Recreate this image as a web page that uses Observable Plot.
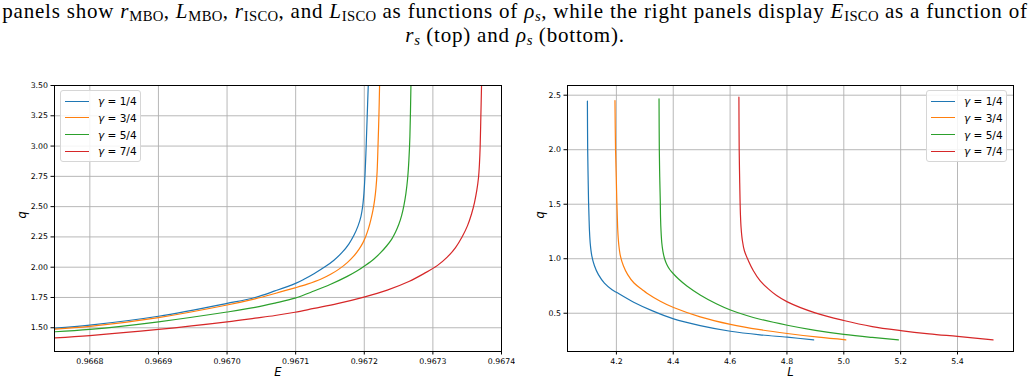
<!DOCTYPE html>
<html>
<head>
<meta charset="utf-8">
<script src="https://cdn.jsdelivr.net/npm/d3@7"></script>
<script src="https://cdn.jsdelivr.net/npm/@observablehq/plot@0.6"></script>
<style>
  html, body { margin: 0; padding: 0; background: #fff; }
  #root { position: relative; width: 1030px; height: 384px; overflow: hidden; }
  .cap { position: absolute; left: 0; width: 1030px; text-align: center;
    font-family: "Liberation Serif", serif; font-size: 21px; letter-spacing: 0.8px; color: #000; white-space: nowrap; }
  .cap sub { font-size: 70%; vertical-align: -0.22em; line-height: 0; letter-spacing: 0.3px; }
  .chart { position: absolute; top: 60px; }
  .chart svg, .chart svg text { font-family: "DejaVu Sans", sans-serif !important; }
  .legend { position: absolute; background: rgba(255,255,255,0.85); border: 1px solid #d6d6d6; border-radius: 3px; box-sizing: border-box; }
  .lg-line { position: absolute; height: 0; border-top: 1.5px solid; }
  .lg-text { position: absolute; font-family: "DejaVu Sans", sans-serif; font-size: 10.5px; line-height: 12px; color: #000; white-space: nowrap; }
</style>
</head>
<body>
<div id="root">
  <div class="cap" style="top:0px; line-height:22px; height:22px">panels show <i>r</i><sub>MBO</sub>, <i>L</i><sub>MBO</sub>, <i>r</i><sub>ISCO</sub>, and <i>L</i><sub>ISCO</sub> as functions of <i>ρ<sub>s</sub></i>, while the right panels display <i>E</i><sub>ISCO</sub> as a function of</div>
  <div class="cap" style="top:25px; line-height:20px; height:20px"><i>r<sub>s</sub></i> (top) and <i>ρ<sub>s</sub></i> (bottom).</div>
  <div id="left" class="chart" style="left:0px"></div>
  <div id="right" class="chart" style="left:515px"></div>
</div>
<script>
// ---- series labels and colours ----
const gammas = ["1/4", "3/4", "5/4", "7/4"];
const colors = ["#1f77b4", "#ff7f0e", "#2ca02c", "#d62728"];

// ---- left panel: q vs E ----
const E_g14 = [0.9667495, 0.9668, 0.9669, 0.9670, 0.9670408, 0.9670699, 0.9670990, 0.9671121, 0.9671267, 0.9671427, 0.9671558, 0.9671680, 0.9671777, 0.9671849, 0.9671908, 0.9671951, 0.9671976, 0.9671995, 0.9672012, 0.9672027, 0.9672041, 0.9672058];
const q_E_g14 = [1.497, 1.522, 1.595, 1.701, 1.750, 1.804, 1.864, 1.900, 1.946, 2.003, 2.058, 2.124, 2.193, 2.263, 2.339, 2.418, 2.501, 2.611, 2.775, 2.991, 3.222, 3.500];
const E_g34 = [0.9667495, 0.9668, 0.9669, 0.9670, 0.9670408, 0.9670699, 0.9670990, 0.9671170, 0.9671364, 0.9671510, 0.9671631, 0.9671752, 0.9671849, 0.9671922, 0.9671981, 0.9672024, 0.9672063, 0.9672097, 0.9672126, 0.9672150, 0.9672170, 0.9672187, 0.9672201, 0.9672214, 0.9672223];
const q_E_g34 = [1.489, 1.511, 1.584, 1.688, 1.739, 1.783, 1.829, 1.860, 1.900, 1.941, 1.984, 2.038, 2.093, 2.147, 2.203, 2.258, 2.322, 2.395, 2.469, 2.552, 2.651, 2.787, 3.018, 3.266, 3.500];
const E_g54 = [0.9667495, 0.9668, 0.9669, 0.9670, 0.9670408, 0.9670699, 0.9670990, 0.9671267, 0.9671510, 0.9671752, 0.9671898, 0.9672019, 0.9672141, 0.9672238, 0.9672325, 0.9672398, 0.9672456, 0.9672505, 0.9672544, 0.9672578, 0.9672607, 0.9672631, 0.9672650, 0.9672665, 0.9672680];
const q_E_g54 = [1.467, 1.486, 1.549, 1.630, 1.668, 1.704, 1.745, 1.803, 1.859, 1.924, 1.970, 2.016, 2.068, 2.120, 2.175, 2.230, 2.290, 2.356, 2.426, 2.511, 2.610, 2.728, 2.882, 3.080, 3.500];
const E_g74 = [0.9667495, 0.9668, 0.9669, 0.9670, 0.9670408, 0.9670699, 0.9670990, 0.9671267, 0.9671607, 0.9671995, 0.9672335, 0.9672650, 0.9672869, 0.9673063, 0.9673209, 0.9673330, 0.9673427, 0.9673505, 0.9673563, 0.9673607, 0.9673641, 0.9673665, 0.9673679, 0.9673689, 0.9673699, 0.9673709];
const q_E_g74 = [1.416, 1.435, 1.486, 1.549, 1.579, 1.601, 1.628, 1.660, 1.699, 1.753, 1.811, 1.882, 1.947, 2.013, 2.083, 2.162, 2.251, 2.343, 2.439, 2.536, 2.638, 2.741, 2.857, 2.995, 3.242, 3.500];

// ---- right panel: q vs L ----
const L_g14 = [4.098, 4.099, 4.1005, 4.102, 4.1037, 4.1053, 4.1082, 4.1135, 4.1228, 4.1368, 4.1579, 4.1848, 4.2000, 4.2608, 4.3251, 4.4012, 4.4947, 4.6012, 4.7053, 4.8012, 4.894];
const q_L_g14 = [2.445, 2.000, 1.750, 1.530, 1.378, 1.256, 1.134, 1.027, 0.936, 0.854, 0.777, 0.716, 0.692, 0.601, 0.524, 0.448, 0.387, 0.335, 0.302, 0.280, 0.256];
const L_g34 = [4.195, 4.197, 4.1995, 4.2015, 4.2033, 4.2049, 4.2082, 4.2140, 4.2246, 4.2398, 4.2620, 4.2912, 4.3076, 4.3544, 4.4012, 4.4947, 4.6012, 4.7053, 4.8012, 4.911, 5.007];
const q_L_g34 = [2.451, 2.000, 1.750, 1.530, 1.378, 1.256, 1.134, 1.027, 0.936, 0.854, 0.777, 0.716, 0.683, 0.610, 0.552, 0.467, 0.398, 0.349, 0.314, 0.280, 0.256];
const L_g54 = [4.350, 4.351, 4.3525, 4.3544, 4.3553, 4.3570, 4.3596, 4.3637, 4.3696, 4.3778, 4.3883, 4.4012, 4.4187, 4.4480, 4.4947, 4.5532, 4.6012, 4.6585, 4.7053, 4.8012, 4.900, 5.000, 5.100, 5.192];
const q_L_g54 = [2.467, 2.000, 1.750, 1.530, 1.378, 1.256, 1.149, 1.067, 1.000, 0.945, 0.899, 0.860, 0.814, 0.750, 0.668, 0.585, 0.530, 0.479, 0.445, 0.390, 0.343, 0.306, 0.278, 0.256];
const L_g74 = [4.631, 4.632, 4.6335, 4.6351, 4.6363, 4.6386, 4.6433, 4.6503, 4.6643, 4.6819, 4.7053, 4.7345, 4.7637, 4.8012, 4.8994, 5.000, 5.100, 5.200, 5.300, 5.400, 5.525];
const q_L_g74 = [2.482, 2.000, 1.750, 1.530, 1.409, 1.287, 1.165, 1.073, 0.982, 0.890, 0.799, 0.723, 0.662, 0.604, 0.503, 0.433, 0.378, 0.341, 0.311, 0.287, 0.256];

// ---- tick labels ----
const leftXTicks = [0.9668, 0.9669, 0.9670, 0.9671, 0.9672, 0.9673, 0.9674];
const leftYTicks = [1.50, 1.75, 2.00, 2.25, 2.50, 2.75, 3.00, 3.25, 3.50];
const rightXTicks = [4.2, 4.4, 4.6, 4.8, 5.0, 5.2, 5.4];
const rightYTicks = [0.5, 1.0, 1.5, 2.0, 2.5];

// ---- build tables ----
function table(xs, ys, g) { return xs.map((x, i) => ({x, y: ys[i], g})); }
const leftData = [
  ...table(E_g14, q_E_g14, gammas[0]), ...table(E_g34, q_E_g34, gammas[1]),
  ...table(E_g54, q_E_g54, gammas[2]), ...table(E_g74, q_E_g74, gammas[3])
];
const rightData = [
  ...table(L_g14, q_L_g14, gammas[0]), ...table(L_g34, q_L_g34, gammas[1]),
  ...table(L_g54, q_L_g54, gammas[2]), ...table(L_g74, q_L_g74, gammas[3])
];

const W = 515, H = 324;

function panel({data, xDomain, yDomain, xTicks, yTicks, xFmt, yFmt, xLabel, marginLeft, marginRight, yLabelOffset}) {
  return Plot.plot({
    width: W, height: H,
    marginTop: 25, marginBottom: 33, marginLeft, marginRight,
    style: {fontFamily: "'DejaVu Sans', sans-serif", fontSize: "7.8px", background: "transparent", color: "#000"},
    x: {domain: xDomain, label: null},
    y: {domain: yDomain, label: null},
    color: {domain: gammas, range: colors},
    marks: [
      Plot.gridX(xTicks, {stroke: "#b0b0b0", strokeOpacity: 1, strokeWidth: 0.9}),
      Plot.gridY(yTicks, {stroke: "#b0b0b0", strokeOpacity: 1, strokeWidth: 0.9}),
      Plot.line(data, {x: "x", y: "y", z: "g", stroke: "g", curve: "catmull-rom", strokeWidth: 1.2, clip: true}),
      Plot.frame({stroke: "#000", strokeWidth: 1}),
      Plot.axisX(xTicks, {tickSize: 3.5, tickPadding: 3, tickFormat: d3.format(xFmt), label: null, stroke: "#000"}),
      Plot.axisY(yTicks, {tickSize: 3.5, tickPadding: 3, tickFormat: d3.format(yFmt), label: null, stroke: "#000"}),
      Plot.text([xLabel], {frameAnchor: "bottom", dy: 24, text: d => d, fontSize: 11.5, fontStyle: "italic", fill: "#000"}),
      Plot.text(["q"], {frameAnchor: "left", dx: -yLabelOffset, rotate: -90, text: d => d, fontSize: 11.5, fontStyle: "italic", fill: "#000"})
    ]
  });
}

document.getElementById("left").append(panel({
  data: leftData, xDomain: [0.9667485, 0.9674], yDomain: [1.304, 3.50],
  xTicks: leftXTicks, yTicks: leftYTicks, xFmt: ".4f", yFmt: ".2f", xLabel: "E",
  marginLeft: 54, marginRight: 14, yLabelOffset: 32
}));
document.getElementById("right").append(panel({
  data: rightData, xDomain: [4.028, 5.597], yDomain: [0.149, 2.589],
  xTicks: rightXTicks, yTicks: rightYTicks, xFmt: ".1f", yFmt: ".1f", xLabel: "L",
  marginLeft: 52, marginRight: 17, yLabelOffset: 27
}));

// ---- legends ----
function legend(left, top, width) {
  const box = document.createElement("div");
  box.className = "legend";
  Object.assign(box.style, {left: left + "px", top: top + "px", width: width + "px", height: "72px"});
  gammas.forEach((g, i) => {
    const cy = 10.7 + i * 16.7;
    const ln = document.createElement("div");
    ln.className = "lg-line";
    Object.assign(ln.style, {left: "4px", width: "24px", top: (cy - 1) + "px", borderTopColor: colors[i]});
    const tx = document.createElement("div");
    tx.className = "lg-text";
    Object.assign(tx.style, {left: "37px", top: (cy - 6.5) + "px"});
    tx.innerHTML = "<i>γ</i> = " + g;
    box.append(ln, tx);
  });
  document.getElementById("root").append(box);
}
legend(60, 90, 81);
legend(926, 90, 81);
</script>
</body>
</html>
